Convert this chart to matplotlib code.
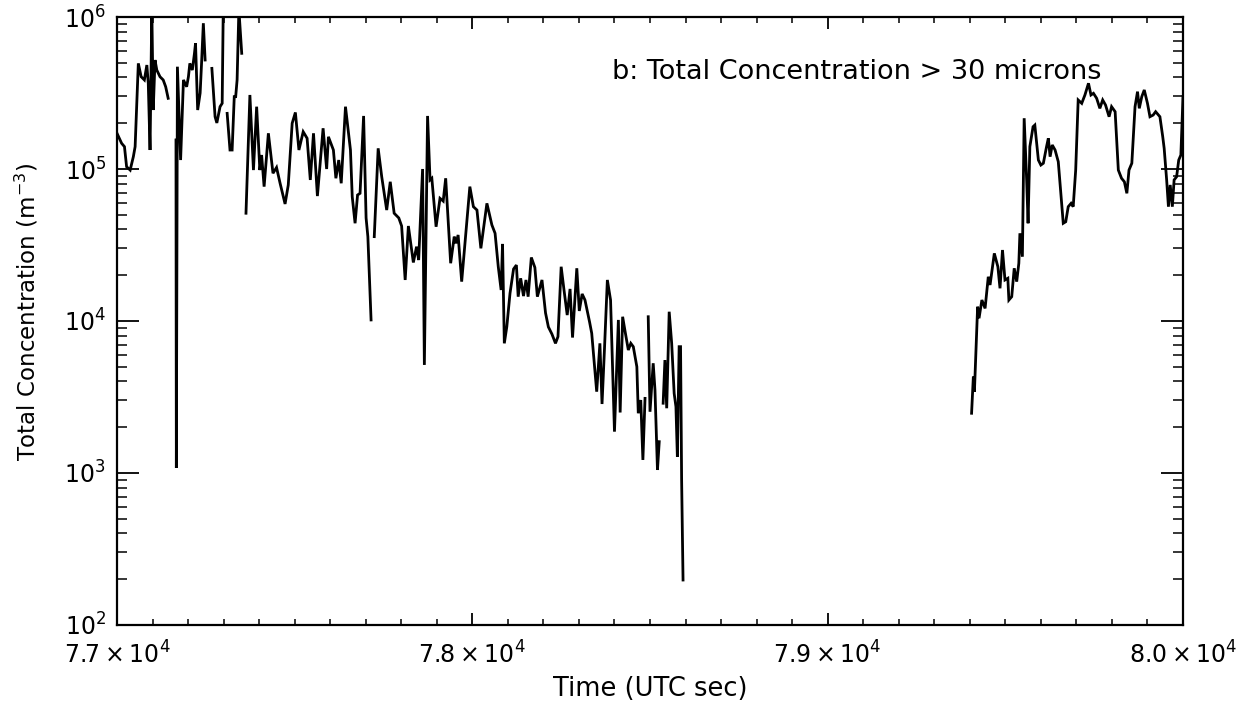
import numpy as np
import matplotlib
matplotlib.use("Agg")
import matplotlib.pyplot as plt
from matplotlib.ticker import FixedLocator, MultipleLocator, LogLocator, NullFormatter

plt.rcParams['font.family'] = ['DejaVu Sans']
plt.rcParams['mathtext.default'] = 'regular'

nan = np.nan

# Time (UTC sec) and log10 of total concentration (m^-3); NaN marks data gaps
time_sec = [
    77000, 77013, 77021, 77027, 77037, 77046, 77051, 77060, 77068, 77077,
    77084, 77088, 77093, 77098, 77102, 77107, 77112, 77121, 77130, 77137,
    77144, nan,
    77166, 77167, 77170, 77179, 77187, 77196, 77201, 77205, 77212, 77218,
    77221, 77227, 77234, 77238, 77243, 77248, nan,
    77267, 77276, 77281, 77290, 77296, 77299, nan,
    77310, 77318, 77324, 77330, 77334, 77338, 77343, 77351, nan,
    77363, 77374, 77384, 77393, 77402, 77407, 77414, 77426, 77439, 77449,
    77459, 77473, 77482, 77493, 77502, 77512, 77524, 77535, 77544, 77553,
    77564, 77580, 77590, 77595, 77609, 77616, 77624, 77631, 77643, 77657,
    77662, 77670, 77677, 77684, 77694, 77701, 77706, 77715, nan,
    77724, 77735, 77745, 77759, 77769, 77780, 77793, 77801, 77811, 77820,
    77834, 77843, 77849, 77860, 77865, 77874, 77881, 77886, 77898, 77909,
    77918, 77925, 77939, 77949, 77954, 77960, 77970, 77993, 78003, 78013,
    78024, 78041, 78055, 78064, 78073, 78081, 78085, 78090, 78097, 78106,
    78116, 78124, 78129, 78136, 78144, 78151, 78157, 78166, 78176, 78183,
    78196, 78206, 78214, 78224, 78234, 78241, 78250, 78258, 78267, 78275,
    78282, 78294, 78301, 78309, 78317, 78330, 78336, 78350, 78359, 78365,
    78372, 78380, 78389, 78400, 78411, 78416, 78423, 78430, 78439, 78446,
    78453, 78463, 78467, 78474, 78480, 78486, nan,
    78495, 78500, 78509, 78514, 78521, 78526, nan,
    78537, 78542, 78547, 78554, 78561, 78568, 78573, 78577, 78582, 78586,
    78589, 78593, nan,
    79405, 79410, 79413, 79422, 79426, 79434, 79443, 79452, 79457, 79469,
    79479, 79485, 79492, 79499, 79507, 79510, 79518, 79525, 79532, 79538,
    79541, 79548, 79553, 79560, 79564, 79569, 79578, 79583, 79593, 79600,
    79607, 79616, 79621, 79626, 79632, 79640, 79649, 79663, 79670, 79677,
    79685, 79691, 79698, 79705, 79715, 79724, 79734, 79741, 79748, 79757,
    79766, 79774, 79782, 79792, 79799, 79809, 79818, 79827, 79835, 79842,
    79848, 79856, 79865, 79872, 79877, 79884, 79891, 79900, 79907, 79916,
    79923, 79935, 79943, 79947, 79954, 79959, 79964, 79970, 79975, 79982,
    79988, 79994, 80000,
]

log10_conc = [
    5.235, 5.169, 5.147, 5.015, 4.993, 5.081, 5.147, 5.695, 5.607, 5.586,
    5.684, 5.564, 5.125, 6.05, 5.388, 5.717, 5.651, 5.607, 5.586, 5.541,
    5.465, nan,
    5.191, 3.033, 5.673, 5.059, 5.586, 5.541, 5.607, 5.695, 5.651, 5.761,
    5.827, 5.388, 5.500, 5.697, 5.959, 5.717, nan,
    5.662, 5.344, 5.303, 5.410, 5.432, 6.05, nan,
    5.366, 5.125, 5.125, 5.476, 5.476, 5.586, 6.05, 5.761, nan,
    4.709, 5.487, 4.993, 5.410, 4.993, 5.092, 4.884, 5.235, 4.972, 5.010,
    4.906, 4.770, 4.895, 5.301, 5.372, 5.125, 5.245, 5.202, 4.928, 5.235,
    4.822, 5.268, 5.000, 5.212, 5.125, 4.939, 5.059, 4.906, 5.410, 5.125,
    4.818, 4.643, 4.829, 4.840, 5.349, 4.678, 4.555, 4.007, nan,
    4.555, 5.136, 4.949, 4.730, 4.916, 4.709, 4.678, 4.625, 4.270, 4.625,
    4.385, 4.489, 4.401, 5.000, 3.711, 5.349, 4.928, 4.939, 4.620, 4.807,
    4.789, 4.939, 4.380, 4.555, 4.511, 4.566, 4.259, 4.884, 4.752, 4.730,
    4.478, 4.774, 4.632, 4.577, 4.357, 4.204, 4.507, 3.853, 3.962, 4.182,
    4.342, 4.368, 4.160, 4.281, 4.164, 4.270, 4.160, 4.418, 4.352, 4.160,
    4.270, 4.053, 3.961, 3.914, 3.853, 3.897, 4.357, 4.204, 4.039, 4.211,
    3.891, 4.347, 4.066, 4.178, 4.138, 3.993, 3.919, 3.535, 3.853, 3.454,
    3.822, 4.270, 4.138, 3.272, 4.007, 3.398, 4.028, 3.930, 3.809, 3.853,
    3.831, 3.699, 3.393, 3.480, 3.086, 3.491, nan,
    4.028, 3.403, 3.722, 3.546, 3.020, 3.206, nan,
    3.459, 3.743, 3.426, 4.061, 3.853, 3.524, 3.436, 3.107, 3.831, 3.831,
    2.954, 2.296, nan,
    3.393, 3.634, 3.535, 4.094, 4.018, 4.138, 4.083, 4.291, 4.237, 4.445,
    4.357, 4.215, 4.467, 4.270, 4.281, 4.138, 4.160, 4.347, 4.259, 4.380,
    4.577, 4.423, 5.334, 4.928, 4.643, 5.147, 5.278, 5.289, 5.059, 5.026,
    5.038, 5.147, 5.202, 5.081, 5.158, 5.125, 5.048, 4.643, 4.653, 4.752,
    4.774, 4.752, 4.993, 5.454, 5.432, 5.487, 5.564, 5.487, 5.498, 5.465,
    5.399, 5.454, 5.421, 5.344, 5.410, 5.377, 4.993, 4.939, 4.916, 4.840,
    4.993, 5.038, 5.410, 5.509, 5.399, 5.476, 5.520, 5.432, 5.344, 5.355,
    5.377, 5.344, 5.212, 5.136, 4.928, 4.752, 4.895, 4.752, 4.928, 4.949,
    5.059, 5.092, 5.476,
]

x_ticks = [77000, 78000, 79000, 80000]
x_tick_labels = [r'$7.7\times10^{4}$', r'$7.8\times10^{4}$', r'$7.9\times10^{4}$', r'$8.0\times10^{4}$']
y_ticks = [1e2, 1e3, 1e4, 1e5, 1e6]
y_tick_labels = [r'$10^{2}$', r'$10^{3}$', r'$10^{4}$', r'$10^{5}$', r'$10^{6}$']

t = np.array(time_sec, dtype=float)
conc = 10.0 ** np.array(log10_conc, dtype=float)

fig = plt.figure(figsize=(12.4, 7.09), dpi=100)
ax = fig.add_axes([117/1240, 1 - 625/709, 1066/1240, 608/709])

ax.plot(t, conc, color='black', lw=2.0, solid_joinstyle='miter')

ax.set_yscale('log')
ax.set_xlim(77000, 80000)
ax.set_ylim(1e2, 1e6)

ax.xaxis.set_major_locator(FixedLocator(x_ticks))
ax.set_xticklabels(x_tick_labels)
ax.xaxis.set_minor_locator(MultipleLocator(100))
ax.yaxis.set_major_locator(FixedLocator(y_ticks))
ax.set_yticklabels(y_tick_labels)
ax.yaxis.set_minor_locator(LogLocator(base=10, subs=np.arange(2, 10)))
ax.yaxis.set_minor_formatter(NullFormatter())

for s in ax.spines.values():
    s.set_linewidth(1.6)

ax.tick_params(axis='x', which='major', direction='in', length=8.6, width=1.3,
               top=True, bottom=True, labelsize=17, pad=12, colors='black')
ax.tick_params(axis='x', which='minor', direction='in', length=4.0, width=1.1,
               top=True, bottom=True)
ax.tick_params(axis='y', which='major', direction='in', length=15.5, width=1.3,
               left=True, right=True, labelsize=17, pad=8)
ax.tick_params(axis='y', which='minor', direction='in', length=7.5, width=1.1,
               left=True, right=True)

ax.set_xlabel('Time (UTC sec)', fontsize=18.5, labelpad=5)
ax.set_ylabel(r'Total Concentration (m$^{-3}$)', fontsize=16.5)
ax.yaxis.set_label_coords(-0.072, 0.515)

ax.text(0.464, 0.909, 'b: Total Concentration > 30 microns', transform=ax.transAxes,
        fontsize=19.5, ha='left', va='center')

fig.savefig('out.png', dpi=100)
